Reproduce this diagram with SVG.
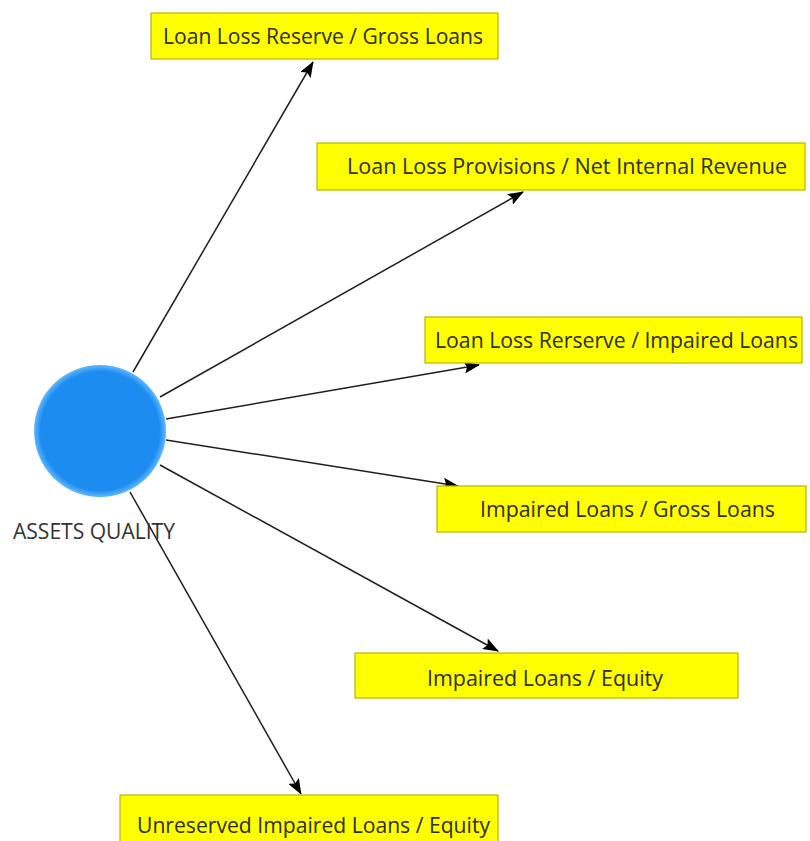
<svg xmlns="http://www.w3.org/2000/svg" width="810" height="841" viewBox="0 0 810 841">
  <style>
    .box rect { fill: #ffff00; stroke: #b8b400; stroke-width: 1.2; }
    .box text { font-family: "Open Sans", "Liberation Sans", sans-serif; font-size: 21px; fill: #2e2e1e; }
    .edge { stroke: #1e1e1e; stroke-width: 1.5; fill: none; marker-end: url(#arrow); }
    .hub-label { font-family: "Open Sans", "Liberation Sans", sans-serif; font-size: 21px; fill: #333333; }
  </style>
  <defs>
    <marker id="arrow" markerUnits="userSpaceOnUse" markerWidth="16" markerHeight="12" refX="15" refY="6" orient="auto">
      <path d="M0,0 L16,6 L0,12 L3,6 Z" fill="#000000"/>
    </marker>
    <radialGradient id="hubGlow" cx="0.5" cy="0.5" r="0.5">
      <stop offset="0.9" stop-color="#1c8cf0"/>
      <stop offset="1" stop-color="#5fb8ff"/>
    </radialGradient>
  </defs>
  <rect width="810" height="841" fill="#ffffff"/>

  <!-- connectors from the hub to each ratio -->
  <g id="connectors">
    <line class="edge" x1="133" y1="372" x2="313" y2="62"/>
    <line class="edge" x1="160" y1="397" x2="523" y2="192"/>
    <line class="edge" x1="166" y1="419" x2="479" y2="365"/>
    <line class="edge" x1="166" y1="440" x2="458" y2="486"/>
    <line class="edge" x1="160" y1="465" x2="498" y2="651"/>
    <line class="edge" x1="130" y1="492" x2="301" y2="794"/>
  </g>

  <!-- hub node -->
  <g id="assets-quality">
    <circle cx="100" cy="431" r="66" fill="url(#hubGlow)"/>
    <text class="hub-label" x="13" y="539" textLength="162" lengthAdjust="spacingAndGlyphs">ASSETS QUALITY</text>
  </g>

  <g id="n1" class="box">
    <rect x="151" y="13" width="347" height="46"/>
    <text x="163" y="44" textLength="320" lengthAdjust="spacingAndGlyphs">Loan Loss Reserve / Gross Loans</text>
  </g>
  <g id="n2" class="box">
    <rect x="317" y="143" width="488" height="47"/>
    <text x="347" y="174" textLength="440" lengthAdjust="spacingAndGlyphs">Loan Loss Provisions / Net Internal Revenue</text>
  </g>
  <g id="n3" class="box">
    <rect x="425" y="317" width="377" height="46"/>
    <text x="435" y="348" textLength="363" lengthAdjust="spacingAndGlyphs">Loan Loss Rerserve / Impaired Loans</text>
  </g>
  <g id="n4" class="box">
    <rect x="437" y="486" width="369" height="46"/>
    <text x="480" y="517" textLength="295" lengthAdjust="spacingAndGlyphs">Impaired Loans / Gross Loans</text>
  </g>
  <g id="n5" class="box">
    <rect x="355" y="653" width="383" height="45"/>
    <text x="427" y="686" textLength="236" lengthAdjust="spacingAndGlyphs">Impaired Loans / Equity</text>
  </g>
  <g id="n6" class="box">
    <rect x="120" y="795" width="378" height="50"/>
    <text x="137" y="833" textLength="353" lengthAdjust="spacingAndGlyphs">Unreserved Impaired Loans / Equity</text>
  </g>
</svg>
